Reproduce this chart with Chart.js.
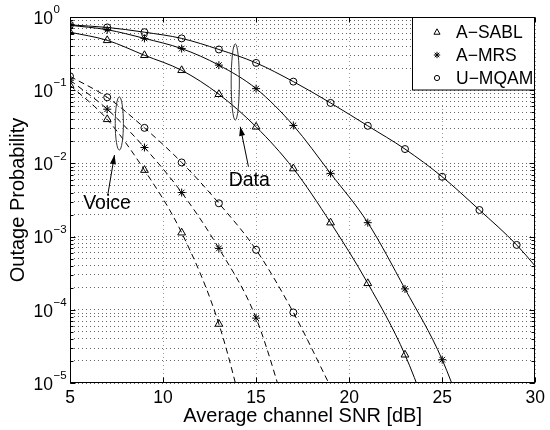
<!DOCTYPE html>
<html><head><meta charset="utf-8">
<script src="https://cdn.jsdelivr.net/npm/chart.js@4.4.1/dist/chart.umd.min.js"></script>
<style>html,body{margin:0;padding:0;background:#fff}canvas{display:block}</style>
</head><body>
<canvas id="c" width="550" height="430"></canvas>
<script>
// ---- data ----
const seriesNames = ['A\u2212SABL', 'A\u2212MRS', 'U\u2212MQAM'];
// Data traffic (solid lines); last value of each list is where the curve leaves the plot
const snrDataSABL = [5, 7, 9, 11, 13, 15, 17, 19, 21, 23, 25];
const dataSABL    = [0.62, 0.48, 0.30, 0.187, 0.088, 0.0316, 0.0085, 0.00155, 2.3e-4, 2.43e-5, 1.1e-6];
const snrDataMRS  = [5, 7, 9, 11, 13, 15, 17, 19, 21, 23, 25, 27];
const dataMRS     = [0.77, 0.67, 0.51, 0.37, 0.22, 0.105, 0.033, 0.0073, 0.00155, 1.93e-4, 2.08e-5, 9e-7];
const snrDataUMQAM = [5, 7, 9, 11, 13, 15, 17, 19, 21, 23, 25, 27, 29, 31];
const dataUMQAM    = [0.78, 0.72, 0.62, 0.51, 0.36, 0.236, 0.131, 0.067, 0.0326, 0.0157, 0.00656, 0.00231, 7.7e-4, 1.95e-4];
// Voice traffic (dashed lines)
const snrVoiceSABL = [5, 7, 9, 11, 13, 15];
const voiceSABL    = [0.117, 0.04, 0.0081, 0.00113, 6.4e-5, 7.6e-7];
const snrVoiceMRS  = [5, 7, 9, 11, 13, 15, 17];
const voiceMRS     = [0.137, 0.055, 0.0165, 0.004, 6.9e-4, 7.7e-5, 1.9e-6];
const snrVoiceUMQAM = [5, 7, 9, 11, 13, 15, 17, 19];
const voiceUMQAM    = [0.155, 0.08, 0.0306, 0.0103, 0.00285, 6.6e-4, 9.2e-5, 8.9e-6];

const xTicks = [5, 10, 15, 20, 25, 30];
const yDecadeExponents = [0, -1, -2, -3, -4, -5];
const xTitle = 'Average channel SNR [dB]';
const yTitle = 'Outage Probability';
const noteData = 'Data';
const noteVoice = 'Voice';

// ---- styling / layout ----
const FONT = '"Liberation Sans", Arial, Helvetica, sans-serif';
const X_MIN = 5, X_MAX = 30, Y_MIN = 1e-5, Y_MAX = 1;
const markerStyles = ['triangle', 'star', 'circle'];
const markerRadius = [4.5, 4, 3.5];

const annot = {
  data:  { ellipse: { x: 13.88, top: 0.43, bottom: 0.039, halfW: 0.22 },
           tip: { x: 14.15, y: 0.0316 }, tail: { x: 14.59, y: 0.0090 }, text: { x: 14.63, y: 0.0059 } },
  voice: { ellipse: { x: 7.65, top: 0.081, bottom: 0.0152, halfW: 0.22 },
           tip: { x: 7.39, y: 0.013 }, tail: { x: 7.03, y: 0.0037 }, text: { x: 6.99, y: 0.00279 } }
};

function pts(xs, ys) { return xs.map((x, i) => ({ x: x, y: ys[i] })); }
function inRange(ctx) {
  const r = ctx.raw; if (!r) return false;
  return r.y >= Y_MIN && r.x <= X_MAX;
}
function mkSet(label, xs, ys, idx, dashed) {
  return {
    label: label,
    data: pts(xs, ys),
    borderColor: '#000',
    borderWidth: 1,
    borderDash: dashed ? [6, 4] : [],
    pointStyle: markerStyles[idx],
    pointRadius: c => inRange(c) ? markerRadius[idx] : 0,
    pointHoverRadius: 0,
    pointBorderColor: '#000',
    pointBackgroundColor: 'rgba(0,0,0,0)',
    pointBorderWidth: 1,
    cubicInterpolationMode: 'monotone',
    fill: false
  };
}

const datasets = [
  mkSet(seriesNames[0] + ' data', snrDataSABL, dataSABL, 0, false),
  mkSet(seriesNames[1] + ' data', snrDataMRS, dataMRS, 1, false),
  mkSet(seriesNames[2] + ' data', snrDataUMQAM, dataUMQAM, 2, false),
  mkSet(seriesNames[0] + ' voice', snrVoiceSABL, voiceSABL, 0, true),
  mkSet(seriesNames[1] + ' voice', snrVoiceMRS, voiceMRS, 1, true),
  mkSet(seriesNames[2] + ' voice', snrVoiceUMQAM, voiceUMQAM, 2, true)
];

const yGridValues = [];
for (let e = -5; e <= 0; e++) {
  for (let m = 1; m <= 9; m++) {
    const v = m * Math.pow(10, e);
    if (v <= Y_MAX * 1.0000001) yGridValues.push(+v.toPrecision(6));
  }
}

function drawMarker(ctx, style, x, y, r) {
  ctx.beginPath();
  if (style === 'circle') {
    ctx.arc(x, y, r, 0, Math.PI * 2);
  } else if (style === 'triangle') {
    ctx.moveTo(x, y - r);
    ctx.lineTo(x + r * 0.95, y + r * 0.7);
    ctx.lineTo(x - r * 0.95, y + r * 0.7);
    ctx.closePath();
  } else {
    for (let k = 0; k < 4; k++) {
      const a = k * Math.PI / 4;
      ctx.moveTo(x - r * Math.cos(a), y - r * Math.sin(a));
      ctx.lineTo(x + r * Math.cos(a), y + r * Math.sin(a));
    }
  }
  ctx.stroke();
}

function arrow(ctx, x1, y1, x2, y2) {
  ctx.beginPath(); ctx.moveTo(x1, y1); ctx.lineTo(x2, y2); ctx.stroke();
  const ang = Math.atan2(y2 - y1, x2 - x1);
  const L = 9, W = 3;
  ctx.beginPath();
  ctx.moveTo(x2, y2);
  ctx.lineTo(x2 - L * Math.cos(ang) + W * Math.sin(ang), y2 - L * Math.sin(ang) - W * Math.cos(ang));
  ctx.lineTo(x2 - L * Math.cos(ang) - W * Math.sin(ang), y2 - L * Math.sin(ang) + W * Math.cos(ang));
  ctx.closePath(); ctx.fill();
}

const deco = {
  id: 'deco',
  afterDatasetsDraw(chart) {
    const { ctx, chartArea: a, scales: { x, y } } = chart;
    ctx.save();
    ctx.strokeStyle = '#000'; ctx.fillStyle = '#000'; ctx.lineWidth = 1; ctx.setLineDash([]);

    // annotations
    ['data', 'voice'].forEach(k => {
      const an = annot[k];
      const cx = x.getPixelForValue(an.ellipse.x);
      const t = y.getPixelForValue(an.ellipse.top), b = y.getPixelForValue(an.ellipse.bottom);
      const rx = x.getPixelForValue(an.ellipse.x + an.ellipse.halfW) - cx;
      ctx.strokeStyle = '#333';
      ctx.beginPath(); ctx.ellipse(cx, (t + b) / 2, rx, (b - t) / 2, 0, 0, Math.PI * 2); ctx.stroke();
      ctx.strokeStyle = '#000';
      arrow(ctx, x.getPixelForValue(an.tail.x), y.getPixelForValue(an.tail.y),
                 x.getPixelForValue(an.tip.x), y.getPixelForValue(an.tip.y));
      ctx.font = '19.5px ' + FONT; ctx.textAlign = 'center'; ctx.textBaseline = 'middle';
      ctx.fillText(k === 'data' ? noteData : noteVoice, x.getPixelForValue(an.text.x), y.getPixelForValue(an.text.y));
    });

    // box
    const L = Math.round(a.left) + 0.5, R = Math.round(a.right) - 0.5;
    const T = Math.round(a.top) + 0.5, B = Math.round(a.bottom) - 0.5;
    ctx.strokeRect(L, T, R - L, B - T);

    // inward ticks
    ctx.beginPath();
    xTicks.forEach(v => {
      const px = Math.round(x.getPixelForValue(v)) + 0.5;
      ctx.moveTo(px, B); ctx.lineTo(px, B - 5);
      ctx.moveTo(px, T); ctx.lineTo(px, T + 5);
    });
    yGridValues.forEach(v => {
      const py = Math.round(y.getPixelForValue(v)) + 0.5;
      const major = Math.abs(Math.log10(v) - Math.round(Math.log10(v))) < 1e-9;
      const len = major ? 5 : 3;
      ctx.moveTo(L, py); ctx.lineTo(L + len, py);
      ctx.moveTo(R, py); ctx.lineTo(R - len, py);
    });
    ctx.stroke();

    // y tick labels 10^k
    yDecadeExponents.forEach(e => {
      const py = y.getPixelForValue(Math.pow(10, e));
      ctx.font = '17.5px ' + FONT; ctx.textAlign = 'right'; ctx.textBaseline = 'middle';
      ctx.fillText('10', 53, py + 2);
      ctx.font = '11.5px ' + FONT; ctx.textAlign = 'left';
      ctx.fillText(e === 0 ? '0' : '\u2212' + Math.abs(e), 53.5, py - 7);
    });

    // legend
    const lx0 = 412, ly0 = T, lx1 = R, ly1 = 90;
    ctx.fillStyle = '#fff';
    ctx.fillRect(lx0, ly0, lx1 - lx0, ly1 - ly0);
    ctx.strokeRect(lx0 + 0.5, ly0, lx1 - lx0 - 0.5, ly1 - ly0);
    ctx.fillStyle = '#000';
    const rows = [32, 55, 78];
    seriesNames.forEach((n, i) => {
      drawMarker(ctx, markerStyles[i], 437, rows[i], i === 2 ? 2.6 : 3.2);
      ctx.font = '17.5px ' + FONT; ctx.textAlign = 'left'; ctx.textBaseline = 'middle';
      ctx.fillText(n, 456, rows[i] + 1);
    });
    ctx.restore();
  }
};

new Chart(document.getElementById('c'), {
  type: 'line',
  data: { datasets: datasets },
  plugins: [deco],
  options: {
    responsive: false,
    animation: false,
    events: [],
    layout: { padding: { top: 17, right: 11, left: 0, bottom: 0 } },
    plugins: { legend: { display: false }, tooltip: { enabled: false } },
    scales: {
      x: {
        type: 'linear', min: X_MIN, max: X_MAX,
        afterBuildTicks: s => { s.ticks = xTicks.map(v => ({ value: v })); },
        afterFit: s => { s.height = 47; },
        ticks: { font: { family: FONT, size: 17.5 }, color: '#000', padding: 5, maxRotation: 0 },
        grid: { color: '#9a9a9a', drawTicks: false, lineWidth: 1 },
        border: { display: false, dash: [1, 3] },
        title: { display: true, text: xTitle, font: { family: FONT, size: 20 }, color: '#000', padding: { top: 0, bottom: 2 } }
      },
      y: {
        type: 'logarithmic', min: Y_MIN, max: Y_MAX,
        afterBuildTicks: s => { s.ticks = yGridValues.map(v => ({ value: v })); },
        afterFit: s => { s.width = 70; },
        ticks: { display: false },
        grid: { color: '#666', drawTicks: false, lineWidth: 1 },
        border: { display: false, dash: [1, 3] },
        title: { display: true, text: yTitle, font: { family: FONT, size: 20 }, color: '#000', padding: { top: 6, bottom: 0 } }
      }
    }
  }
});
</script>
</body></html>
